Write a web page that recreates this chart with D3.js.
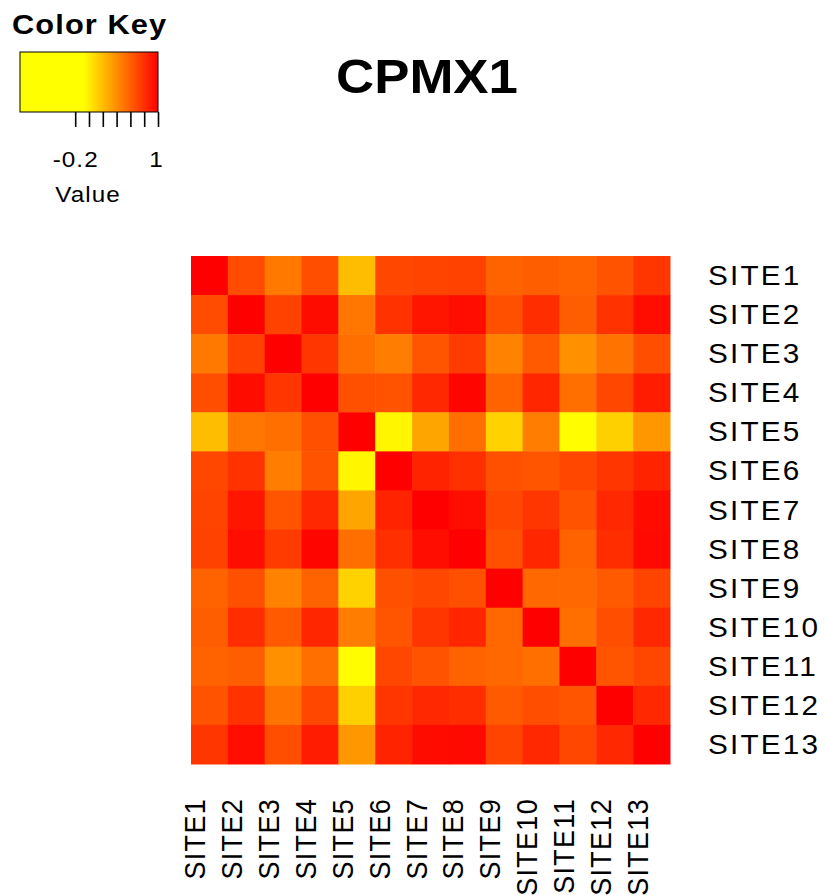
<!DOCTYPE html>
<html>
<head>
<meta charset="utf-8">
<script src="https://cdn.jsdelivr.net/npm/d3@7"></script>
<style>
  html, body { margin: 0; padding: 0; background: #ffffff; }
  text { font-family: "Liberation Sans", Arial, sans-serif; fill: #000; }
</style>
</head>
<body>
<svg id="chart" width="826" height="895"></svg>
<script>
// Site names (rows and columns share the same order)
const sites = ["SITE1","SITE2","SITE3","SITE4","SITE5","SITE6","SITE7",
               "SITE8","SITE9","SITE10","SITE11","SITE12","SITE13"];

// Pairwise correlation values, one array per site
const site1  = [1.00,0.68,0.49,0.67,0.20,0.70,0.71,0.72,0.58,0.60,0.58,0.65,0.77];
const site2  = [0.68,1.00,0.72,0.95,0.50,0.79,0.91,0.94,0.66,0.81,0.60,0.79,0.94];
const site3  = [0.49,0.72,1.00,0.77,0.53,0.47,0.64,0.75,0.45,0.62,0.39,0.51,0.67];
const site4  = [0.67,0.95,0.77,1.00,0.66,0.65,0.83,0.98,0.58,0.84,0.53,0.70,0.88];
const site5  = [0.20,0.50,0.53,0.66,1.00,-0.04,0.30,0.53,0.11,0.47,-0.07,0.12,0.36];
const site6  = [0.70,0.79,0.47,0.65,-0.04,1.00,0.85,0.80,0.66,0.64,0.70,0.77,0.85];
const site7  = [0.71,0.91,0.64,0.83,0.30,0.85,1.00,0.94,0.70,0.77,0.65,0.83,0.95];
const site8  = [0.72,0.94,0.75,0.98,0.53,0.80,0.94,1.00,0.66,0.84,0.58,0.81,0.96];
const site9  = [0.58,0.66,0.45,0.58,0.11,0.66,0.70,0.66,1.00,0.56,0.56,0.62,0.71];
const site10 = [0.60,0.81,0.62,0.84,0.47,0.64,0.77,0.84,0.56,1.00,0.53,0.67,0.83];
const site11 = [0.58,0.60,0.39,0.53,-0.07,0.70,0.65,0.58,0.56,0.53,1.00,0.64,0.70];
const site12 = [0.65,0.79,0.51,0.70,0.12,0.77,0.83,0.81,0.62,0.67,0.64,1.00,0.83];
const site13 = [0.77,0.94,0.67,0.88,0.36,0.85,0.95,0.96,0.71,0.83,0.70,0.83,1.00];

// Color key settings
const keyDomain = [-1, 1];
const keyTicks = [-0.2, 0, 0.2, 0.4, 0.6, 0.8, 1];
const keyTickLabels = ["-0.2", "", "", "", "", "", "1"];
const colorStart = -0.08;   // below this value cells are fully yellow

const chartTitle = "CPMX1";

// ---------------------------------------------------------------
const matrix = [site1, site2, site3, site4, site5, site6, site7,
                site8, site9, site10, site11, site12, site13];
const cells = [];
matrix.forEach((row, i) => row.forEach((v, j) => cells.push({ r: sites[i], c: sites[j], v })));

const svg = d3.select("#chart");
const SX = 1.1;                    // horizontal stretch applied to all text
const fontMain = 27;

const color = d3.scaleLinear()
  .domain([colorStart, 1])
  .range(["#ffff00", "#ff0000"])
  .interpolate(d3.interpolateRgb)
  .clamp(true);

// Heat map grid
const x = d3.scaleBand().domain(sites).range([191, 670]).padding(0);
const y = d3.scaleBand().domain(sites).range([256, 764]).padding(0);

svg.append("g").selectAll("rect")
  .data(cells)
  .join("rect")
  .attr("x", d => x(d.c))
  .attr("y", d => y(d.r))
  .attr("width", x.bandwidth() + 0.5)
  .attr("height", y.bandwidth() + 0.5)
  .attr("fill", d => color(d.v));

// Row labels on the right
svg.append("g").selectAll("text")
  .data(sites)
  .join("text")
  .attr("transform", d => `translate(708,${y(d) + y.bandwidth() / 2 + 9.5}) scale(${SX},1)`)
  .style("font-size", fontMain + "px")
  .style("letter-spacing", "2px")
  .text(d => d);

// Column labels underneath, reading upward
svg.append("g").selectAll("text")
  .data(sites)
  .join("text")
  .attr("transform", d => `translate(${x(d) + x.bandwidth() / 2 - 4},798) scale(${SX},1) rotate(-90)`)
  .attr("text-anchor", "end")
  .style("font-size", fontMain + "px")
  .style("letter-spacing", "1.3px")
  .text(d => d);

// Title
svg.append("text")
  .attr("transform", `translate(427,93) scale(${SX},1)`)
  .attr("text-anchor", "middle")
  .style("font-size", "48px")
  .style("font-weight", "bold")
  .text(chartTitle);

// ---------------- Color key ----------------
const key = svg.append("g");
const kx = d3.scaleLinear().domain(keyDomain).range([20, 158]);
const keyTop = 52, keyBottom = 112;

key.append("text")
  .attr("transform", `translate(12,34) scale(${SX},1)`)
  .style("font-size", "28px")
  .style("font-weight", "bold")
  .style("letter-spacing", "1px")
  .text("Color Key");

const grad = svg.append("defs").append("linearGradient")
  .attr("id", "keyGrad")
  .attr("x1", "0%").attr("x2", "100%").attr("y1", "0%").attr("y2", "0%");
const stopVals = d3.range(0, 1.0001, 0.02).map(t => keyDomain[0] + t * (keyDomain[1] - keyDomain[0]));
grad.selectAll("stop")
  .data(stopVals)
  .join("stop")
  .attr("offset", v => ((v - keyDomain[0]) / (keyDomain[1] - keyDomain[0]) * 100) + "%")
  .attr("stop-color", v => color(v));

key.append("rect")
  .attr("x", kx(keyDomain[0]))
  .attr("y", keyTop)
  .attr("width", kx(keyDomain[1]) - kx(keyDomain[0]))
  .attr("height", keyBottom - keyTop)
  .attr("fill", "url(#keyGrad)")
  .attr("stroke", "#000")
  .attr("stroke-width", 1);

const keyAxis = d3.axisBottom(kx)
  .tickValues(keyTicks)
  .tickSize(15)
  .tickSizeOuter(0)
  .tickFormat((d, i) => keyTickLabels[i]);

const ka = key.append("g")
  .attr("transform", `translate(0,${keyBottom})`)
  .call(keyAxis);
ka.select(".domain").remove();
ka.selectAll(".tick line").attr("stroke", "#000").attr("stroke-width", 1.6);
ka.selectAll(".tick text")
  .attr("y", 0).attr("dy", 0)
  .attr("transform", (d, i) => `translate(${i === keyTicks.length - 1 ? -2 : 0},55) scale(${SX},1)`)
  .style("font-size", "22px")
  .style("letter-spacing", "1px")
  .style("font-family", "'Liberation Sans', Arial, sans-serif")
  .attr("fill", "#000");

key.append("text")
  .attr("transform", `translate(88,202) scale(${SX},1)`)
  .attr("text-anchor", "middle")
  .style("font-size", "22px")
  .style("letter-spacing", "1px")
  .text("Value");
</script>
</body>
</html>
